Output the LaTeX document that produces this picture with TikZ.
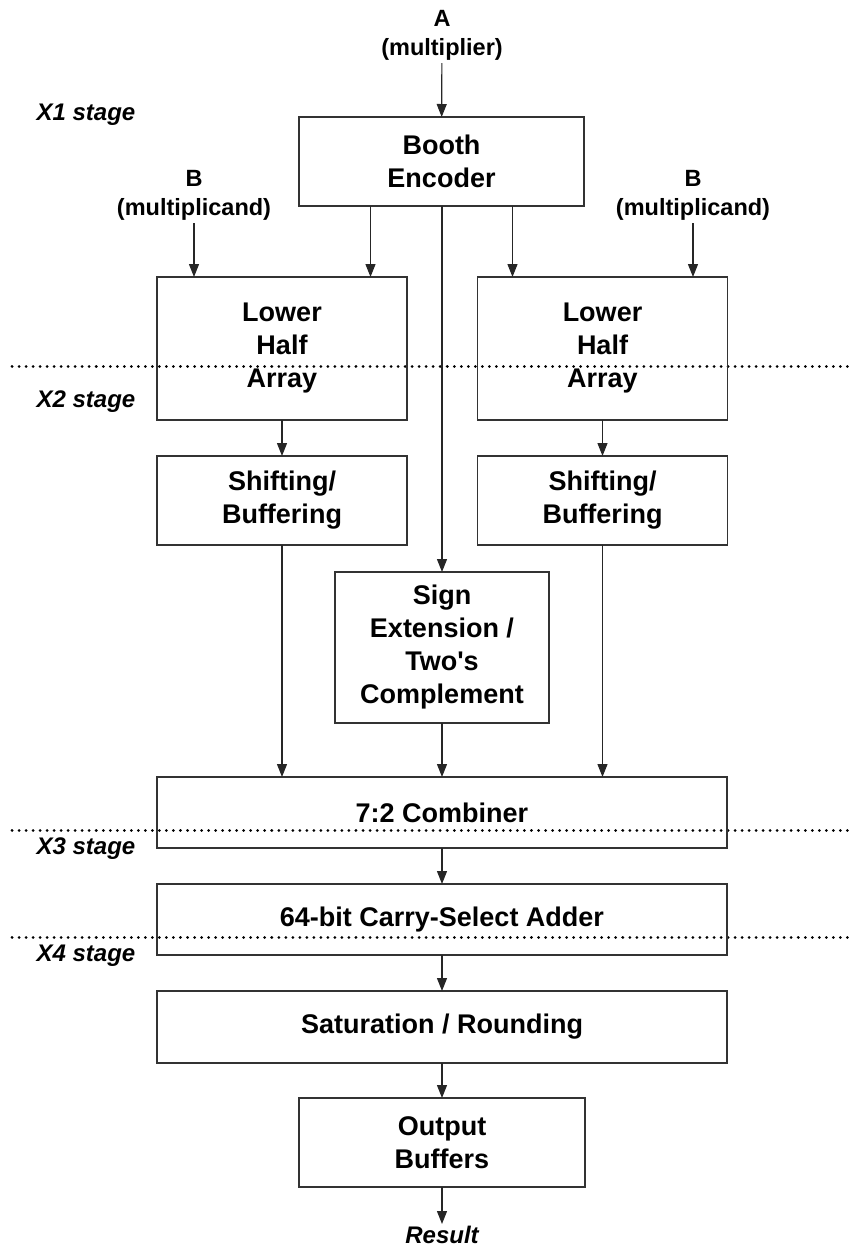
\documentclass[tikz,border=0pt]{standalone}
\usepackage{fontspec}
\setmainfont{Liberation Sans}[Ligatures=TeXOff]
\usetikzlibrary{arrows.meta}
\tikzset{
  block/.style={
    draw=black!80,
    line width=0.6pt,
    align=center,
    inner sep=0pt,
    outer sep=0pt,
    font=\fontsize{13.5}{16.5}\selectfont\bfseries
  },
  tag/.style={
    align=center,
    inner sep=1pt,
    font=\fontsize{11.75}{14.5}\selectfont\bfseries
  },
  stagetag/.style={
    inner sep=0pt,
    font=\fontsize{12}{14}\selectfont\bfseries\itshape
  },
  arrow/.style={
    -{Triangle[length=6.5pt,width=5pt]},
    line width=0.6pt,
    black!85
  },
  divider/.style={
    line width=1.5pt,
    dash pattern=on 0.01pt off 3.5pt,
    line cap=round
  }
}

\begin{document}
\begin{tikzpicture}[x=0.5pt,y=-0.5pt]
\useasboundingbox (0,0) rectangle (859,1254);
% stage borders
\draw[divider] (12,366) -- (850,366);
\draw[divider] (12,830) -- (850,830);
\draw[divider] (12,937) -- (850,937);
\node[stagetag] (x1) at (86,115) {X1 stage};
\node[stagetag] (x2) at (86,402) {X2 stage};
\node[stagetag] (x3) at (86,849) {X3 stage};
\node[stagetag] (x4) at (86,956) {X4 stage};
% inputs
\node[tag, anchor=south] (inA) at (442,63) {A\\(multiplier)};
\node[tag, anchor=south] (inBl) at (194,223) {B\\(multiplicand)};
\node[tag, anchor=south] (inBr) at (693,223) {B\\(multiplicand)};
% blocks
\node[block, minimum width=142.5pt, minimum height=44.5pt] (booth) at (441.5,161.5) {Booth\\Encoder};
\node[block, minimum width=125pt, minimum height=71.5pt] (lhaL) at (282,348.5) {Lower\\Half\\Array};
\node[block, minimum width=125pt, minimum height=71.5pt] (lhaR) at (602.5,348.5) {Lower\\Half\\Array};
\node[block, minimum width=125pt, minimum height=44.5pt] (shiftL) at (282,500.5) {Shifting/\\Buffering};
\node[block, minimum width=125pt, minimum height=44.5pt] (shiftR) at (602.5,500.5) {Shifting/\\Buffering};
\node[block, minimum width=107pt, minimum height=75.5pt] (sign) at (442,647.5) {Sign\\Extension /\\Two's\\Complement};
\node[block, minimum width=285pt, minimum height=35.5pt] (comb) at (442,812.5) {7:2 Combiner};
\node[block, minimum width=285pt, minimum height=35.5pt] (csa) at (442,919.5) {64-bit Carry-Select Adder};
\node[block, minimum width=285pt, minimum height=36pt] (sat) at (442,1027) {Saturation / Rounding};
\node[block, minimum width=143pt, minimum height=44.5pt] (outbuf) at (442,1142.5) {Output\\Buffers};
\node[stagetag, anchor=north, inner sep=1pt] (res) at (442,1224) {Result};
% connections
\draw[arrow] (inA) -- (booth);
\draw[arrow] (inBl) -- (inBl |- lhaL.north);
\draw[arrow] (inBr) -- (inBr |- lhaR.north);
\draw[arrow] ([xshift=-35.5pt]booth.south) -- ([xshift=-35.5pt]booth.south |- lhaL.north);
\draw[arrow] ([xshift=35.5pt]booth.south) -- ([xshift=35.5pt]booth.south |- lhaR.north);
\draw[arrow] (booth.south -| sign.north) -- (sign.north);
\draw[arrow] (lhaL) -- (shiftL);
\draw[arrow] (lhaR) -- (shiftR);
\draw[arrow] (shiftL.south) -- (shiftL.south |- comb.north);
\draw[arrow] (shiftR.south) -- (shiftR.south |- comb.north);
\draw[arrow] (sign) -- (comb);
\draw[arrow] (comb) -- (csa);
\draw[arrow] (csa) -- (sat);
\draw[arrow] (sat) -- (outbuf);
\draw[arrow] (outbuf) -- (res);
\end{tikzpicture}
\end{document}
